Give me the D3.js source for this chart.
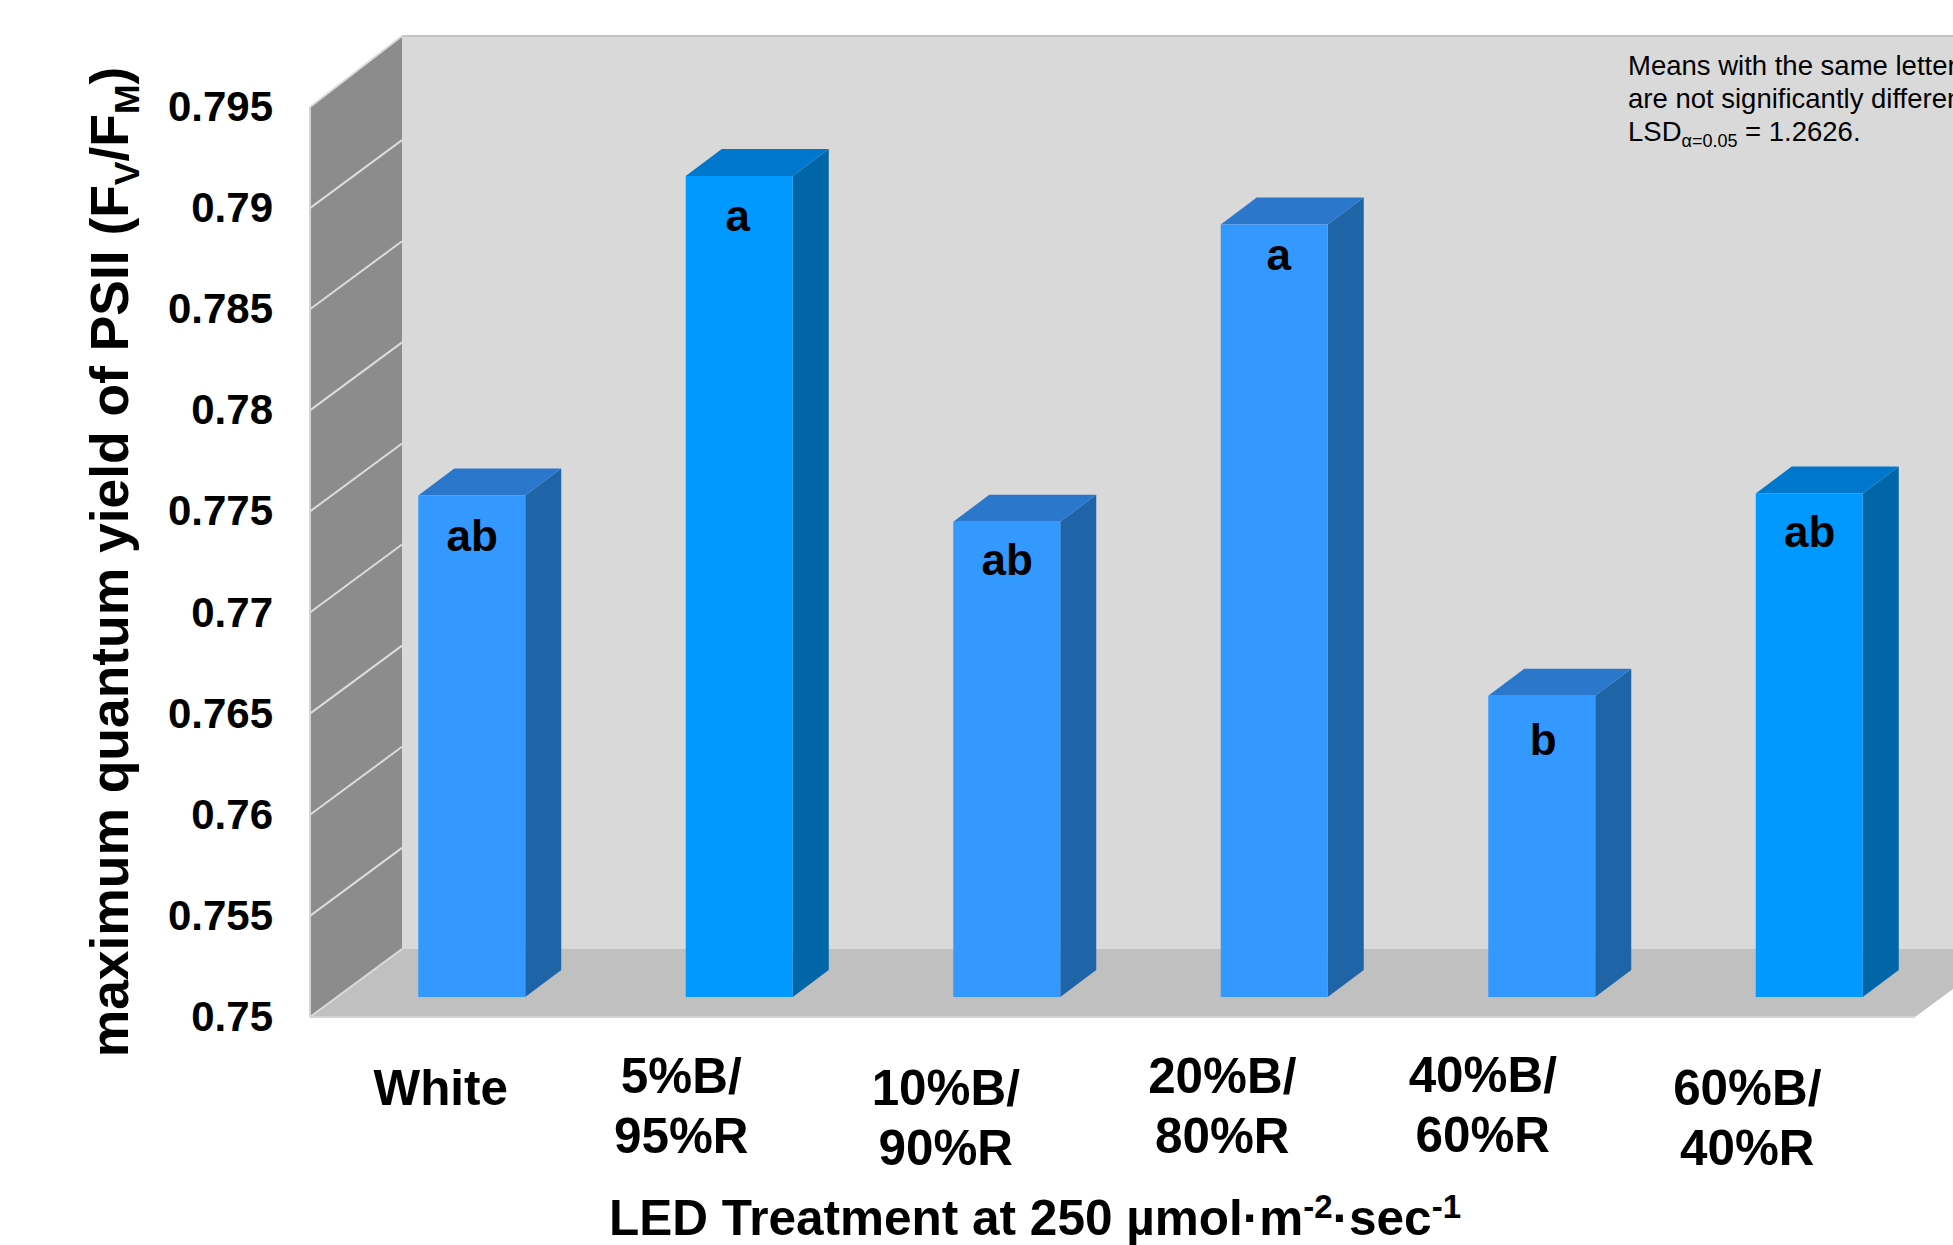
<!DOCTYPE html>
<html>
<head>
<meta charset="utf-8">
<script src="https://cdn.jsdelivr.net/npm/d3@7"></script>
<style>
  body { margin: 0; background: #fff; overflow: hidden; }
  text { font-family: "Liberation Sans", Arial, sans-serif; fill: #000; }
  .bold { font-weight: bold; }
</style>
</head>
<body>
<svg id="chart"></svg>
<script>
// Chart values
const categories = ["White", "5%B/95%R", "10%B/90%R", "20%B/80%R", "40%B/60%R", "60%B/40%R"];
const labelLines = [["White"], ["5%B/", "95%R"], ["10%B/", "90%R"], ["20%B/", "80%R"], ["40%B/", "60%R"], ["60%B/", "40%R"]];
const values = [0.7748, 0.7906, 0.7735, 0.7882, 0.7649, 0.7749];
const letters = ["ab", "a", "ab", "a", "b", "ab"];
const yTicks = [0.75, 0.755, 0.76, 0.765, 0.77, 0.775, 0.78, 0.785, 0.79, 0.795];
const yTickLabels = ["0.75", "0.755", "0.76", "0.765", "0.77", "0.775", "0.78", "0.785", "0.79", "0.795"];

// Layout
const svgWidth = 1953;
const svgHeight = 1245;
const plot = { left: 310, right: 1915, bottom: 1017, top: 107 };
const depth = { x: 92, y: 68 };        // wall and floor depth
const wallTopY = 36;                   // top edge of the back wall
const barShift = { x: 28, y: 20 };     // bar front plane sits this far into the floor
const barDepth = { x: 36, y: 27 };
const barWidth = 107;

// The tick labels and letters were placed by hand in the original, so they wander a bit
const labelNudgeX = [-3, -30, -33, -24, -31, -34];
const labelBaseline = [1105, 1093, 1105, 1093, 1092, 1105];
const letterNudgeX = [0, -2, 0, 4, 1, 0];
const letterNudgeY = [1, 0, -2, -10, 4, -1];

// Colours: the 2nd and 6th bars are a slightly different blue
const face = ["#3399ff", "#0099ff", "#3399ff", "#3399ff", "#3399ff", "#0099ff"];
const side = ["#2064a8", "#0066a8", "#2064a8", "#2064a8", "#2064a8", "#0066a8"];
const top_ = ["#2a77cb", "#0077cc", "#2a77cb", "#2a77cb", "#2a77cb", "#0077cc"];

const svg = d3.select("#chart")
    .attr("width", svgWidth)
    .attr("height", svgHeight);

const xScale = d3.scaleBand()
    .domain(categories)
    .range([plot.left, plot.right]);

const yScale = d3.scaleLinear()
    .domain([0.75, 0.795])
    .range([plot.bottom, plot.top]);

const poly = pts => pts.map(p => p.join(",")).join(" ");
const y0 = yScale(0.75);
const yTop = yScale(0.795);

// Back wall
svg.append("polygon")
    .attr("points", poly([
        [plot.left + depth.x, wallTopY],
        [plot.right + depth.x, wallTopY],
        [plot.right + depth.x, y0 - depth.y],
        [plot.left + depth.x, y0 - depth.y]
    ]))
    .attr("fill", "#d9d9d9");
svg.append("line")
    .attr("x1", plot.left + depth.x).attr("x2", svgWidth)
    .attr("y1", wallTopY).attr("y2", wallTopY)
    .attr("stroke", "#c4c4c4").attr("stroke-width", 2);

// Side wall
svg.append("polygon")
    .attr("points", poly([
        [plot.left, yTop],
        [plot.left + depth.x, wallTopY],
        [plot.left + depth.x, y0 - depth.y],
        [plot.left, y0]
    ]))
    .attr("fill", "#8c8c8c");

// Floor
svg.append("polygon")
    .attr("points", poly([
        [plot.left, y0],
        [plot.right, y0],
        [plot.right + depth.x, y0 - depth.y],
        [plot.left + depth.x, y0 - depth.y]
    ]))
    .attr("fill", "#c0c0c0");

// Gridlines only run along the side wall
svg.selectAll(".grid")
    .data(yTicks)
    .enter().append("line")
    .attr("class", "grid")
    .attr("x1", plot.left)
    .attr("x2", plot.left + depth.x)
    .attr("y1", d => yScale(d))
    .attr("y2", d => d === 0.795 ? wallTopY : yScale(d) - depth.y)
    .attr("stroke", "#dcdcdc")
    .attr("stroke-width", 2);

// Front edges of wall and floor
svg.append("line")
    .attr("x1", plot.left).attr("x2", plot.left)
    .attr("y1", yTop).attr("y2", y0)
    .attr("stroke", "#d4d4d4").attr("stroke-width", 2);
svg.append("line")
    .attr("x1", plot.left).attr("x2", plot.right)
    .attr("y1", y0).attr("y2", y0)
    .attr("stroke", "#d4d4d4").attr("stroke-width", 2);

// Bars
const barData = categories.map((c, i) => ({ c, i, v: values[i] }));
const barX = d => xScale(d.c) + (xScale.bandwidth() - barWidth) / 2 + barShift.x;
const barTop = d => yScale(d.v) - barShift.y;
const barBottom = y0 - barShift.y;

const bars = svg.selectAll(".bar")
    .data(barData)
    .enter().append("g")
    .attr("class", "bar");

bars.append("polygon")
    .attr("points", d => poly([
        [barX(d) + barWidth, barTop(d)],
        [barX(d) + barWidth + barDepth.x, barTop(d) - barDepth.y],
        [barX(d) + barWidth + barDepth.x, barBottom - barDepth.y],
        [barX(d) + barWidth, barBottom]
    ]))
    .attr("fill", d => side[d.i]);

bars.append("polygon")
    .attr("points", d => poly([
        [barX(d), barTop(d)],
        [barX(d) + barDepth.x, barTop(d) - barDepth.y],
        [barX(d) + barWidth + barDepth.x, barTop(d) - barDepth.y],
        [barX(d) + barWidth, barTop(d)]
    ]))
    .attr("fill", d => top_[d.i]);

bars.append("rect")
    .attr("x", barX)
    .attr("y", barTop)
    .attr("width", barWidth)
    .attr("height", d => barBottom - barTop(d))
    .attr("fill", d => face[d.i]);

bars.append("text")
    .attr("class", "bold")
    .attr("x", d => barX(d) + barWidth / 2 + 0.5 + letterNudgeX[d.i])
    .attr("y", d => barTop(d) + 55 + letterNudgeY[d.i])
    .attr("text-anchor", "middle")
    .style("font-size", "44px")
    .text(d => letters[d.i]);

// Y axis labels
const yAxis = svg.append("g")
    .attr("transform", `translate(${plot.left},0)`)
    .call(d3.axisLeft(yScale)
        .tickValues(yTicks)
        .tickFormat((d, i) => yTickLabels[i])
        .tickSize(0)
        .tickPadding(37));
yAxis.select(".domain").remove();
yAxis.selectAll("text")
    .attr("class", "bold")
    .style("font-size", "42px");

// X category labels
const xLabels = svg.selectAll(".xlabel")
    .data(barData)
    .enter().append("text")
    .attr("class", "xlabel bold")
    .attr("text-anchor", "middle")
    .style("font-size", "49.4px");
xLabels.selectAll("tspan")
    .data(d => labelLines[d.i].map((t, k) => ({ t, k, d })))
    .enter().append("tspan")
    .attr("x", o => xScale(o.d.c) + xScale.bandwidth() / 2 + labelNudgeX[o.d.i])
    .attr("y", o => labelBaseline[o.d.i] + o.k * 60)
    .text(o => o.t);

// X title
const xTitle = svg.append("text")
    .attr("class", "bold")
    .attr("x", 1035)
    .attr("y", 1235)
    .attr("text-anchor", "middle")
    .style("font-size", "49.5px");
xTitle.append("tspan").text("LED Treatment at 250 µmol·m");
xTitle.append("tspan").attr("dy", -17).style("font-size", "33px").text("-2");
xTitle.append("tspan").attr("dy", 17).text("·sec");
xTitle.append("tspan").attr("dy", -17).style("font-size", "33px").text("-1");

// Y title
const yTitle = svg.append("text")
    .attr("class", "bold")
    .attr("text-anchor", "middle")
    .attr("transform", "translate(128,562) rotate(-90)")
    .style("font-size", "53.4px");
yTitle.append("tspan").text("maximum quantum yield of PSII (F");
yTitle.append("tspan").attr("dy", 11).style("font-size", "35.5px").text("V");
yTitle.append("tspan").attr("dy", -11).text("/F");
yTitle.append("tspan").attr("dy", 11).style("font-size", "35.5px").text("M");
yTitle.append("tspan").attr("dy", -11).text(")");

// Note in the top right corner, runs off the page as in the original
const note = svg.append("g").style("font-size", "27.5px");
note.append("text").attr("x", 1628).attr("y", 75).text("Means with the same letter");
note.append("text").attr("x", 1628).attr("y", 108).text("are not significantly different.");
const lsd = note.append("text").attr("x", 1628).attr("y", 141);
lsd.append("tspan").text("LSD");
lsd.append("tspan").attr("dy", 6).style("font-size", "18px").text("α=0.05");
lsd.append("tspan").attr("dy", -6).text(" = 1.2626.");
</script>
</body>
</html>
